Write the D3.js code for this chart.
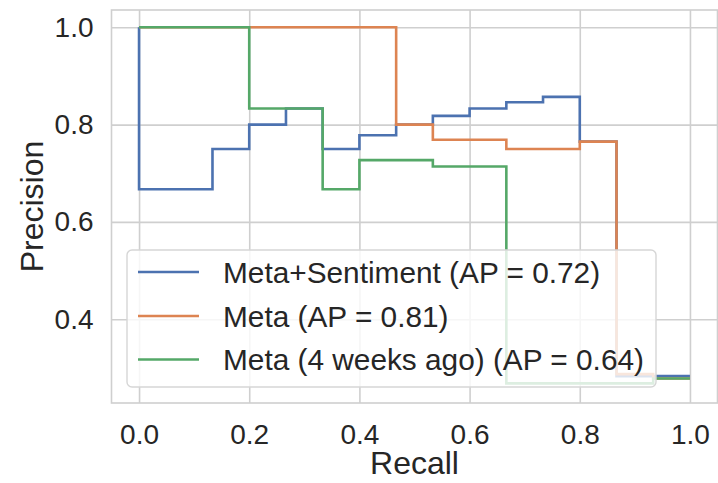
<!DOCTYPE html>
<html>
<head>
<meta charset="utf-8">
<script src="https://cdn.jsdelivr.net/npm/d3@7"></script>
<style>
  html, body { margin: 0; padding: 0; background: #ffffff; }
  svg { display: block; font-family: "Liberation Sans", Arial, Helvetica, sans-serif; }
</style>
</head>
<body>
<svg id="chart" width="718" height="483"></svg>
<script>
// Precision-recall curves (recall decreasing, drawn as post-steps)
const seriesNames = ["Meta+Sentiment", "Meta", "Meta (4 weeks ago)"];
const averagePrecision = [0.72, 0.81, 0.64];
const seriesColors = ["#4c72b0", "#dd8452", "#55a868"];

const recallMetaSentiment    = [1.0, 0.8667, 0.8, 0.7333, 0.6667, 0.6, 0.5333, 0.4667, 0.4, 0.3333, 0.2667, 0.2, 0.1333, 0.0];
const precisionMetaSentiment = [0.283, 0.765, 0.857, 0.846, 0.833, 0.818, 0.8, 0.778, 0.75, 0.833, 0.8, 0.75, 0.667, 1.0];

const recallMeta    = [1.0, 0.9333, 0.8667, 0.8, 0.6667, 0.5333, 0.4667, 0.0];
const precisionMeta = [0.278, 0.287, 0.765, 0.75, 0.769, 0.8, 1.0, 1.0];

const recallMeta4w    = [1.0, 0.9333, 0.6667, 0.5333, 0.4, 0.3333, 0.2, 0.0];
const precisionMeta4w = [0.278, 0.268, 0.714, 0.727, 0.667, 0.833, 1.0, 1.0];

const xTicks = [0.0, 0.2, 0.4, 0.6, 0.8, 1.0];
const yTicks = [0.4, 0.6, 0.8, 1.0];

const series = [
  { recall: recallMetaSentiment, precision: precisionMetaSentiment },
  { recall: recallMeta, precision: precisionMeta },
  { recall: recallMeta4w, precision: precisionMeta4w }
];

const svg = d3.select("#chart");
const plot = { left: 111.5, right: 717.5, top: 10, bottom: 403 };

const x = d3.scaleLinear().domain([-0.05, 1.05]).range([plot.left, plot.right]);
const y = d3.scaleLinear().domain([0.2277, 1.0356]).range([plot.bottom, plot.top]);

const gridColor = "#cfcfcf";
const textColor = "#262626";
const tickFont = "28px";
const labelFont = "32px";
const legendFont = "29.8px";

// grid and tick labels
const xAxis = d3.axisBottom(x).tickValues(xTicks).tickFormat(d3.format(".1f"))
  .tickSize(-(plot.bottom - plot.top));
const yAxis = d3.axisLeft(y).tickValues(yTicks).tickFormat(d3.format(".1f"))
  .tickSize(-(plot.right - plot.left)).tickPadding(18);

const gx = svg.append("g").attr("transform", `translate(0,${plot.bottom})`).call(xAxis);
const gy = svg.append("g").attr("transform", `translate(${plot.left},0)`).call(yAxis);

[gx, gy].forEach(g => {
  g.select(".domain").remove();
  g.selectAll(".tick line").attr("stroke", gridColor).attr("stroke-width", 1.6);
  g.selectAll(".tick text").attr("fill", textColor).style("font-size", tickFont);
});
gx.selectAll(".tick text").attr("y", 41).attr("dy", 0);

// frame
svg.append("rect")
  .attr("x", plot.left).attr("y", plot.top)
  .attr("width", plot.right - plot.left).attr("height", plot.bottom - plot.top)
  .attr("fill", "none").attr("stroke", gridColor).attr("stroke-width", 1.6);

// curves
const line = d3.line()
  .x(d => x(d[0])).y(d => y(d[1]))
  .curve(d3.curveStepAfter);

series.forEach((s, i) => {
  const pts = s.recall.map((r, k) => [r, s.precision[k]]);
  svg.append("path")
    .attr("d", line(pts))
    .attr("fill", "none")
    .attr("stroke", seriesColors[i])
    .attr("stroke-width", 2.6)
    .attr("stroke-linejoin", "miter");
});

// axis labels
svg.append("text")
  .attr("x", (plot.left + plot.right) / 2).attr("y", 474)
  .attr("text-anchor", "middle").attr("fill", textColor)
  .style("font-size", labelFont).text("Recall");

svg.append("text")
  .attr("transform", `translate(43,${(plot.top + plot.bottom) / 2}) rotate(-90)`)
  .attr("text-anchor", "middle").attr("fill", textColor)
  .style("font-size", labelFont).text("Precision");

// legend
const legend = svg.append("g");
legend.append("rect")
  .attr("x", 127).attr("y", 250).attr("width", 529).attr("height", 137)
  .attr("rx", 5).attr("ry", 5)
  .attr("fill", "#ffffff").attr("fill-opacity", 0.8)
  .attr("stroke", "#d6d6d6").attr("stroke-width", 1.4);

const rowY = [272, 316, 359.5];
seriesNames.forEach((name, i) => {
  legend.append("line")
    .attr("x1", 138).attr("x2", 199)
    .attr("y1", rowY[i]).attr("y2", rowY[i])
    .attr("stroke", seriesColors[i]).attr("stroke-width", 2.6);
  legend.append("text")
    .attr("x", 223).attr("y", rowY[i]).attr("dy", "0.36em")
    .attr("fill", textColor).style("font-size", legendFont)
    .text(`${name} (AP = ${averagePrecision[i].toFixed(2)})`);
});
</script>
</body>
</html>
